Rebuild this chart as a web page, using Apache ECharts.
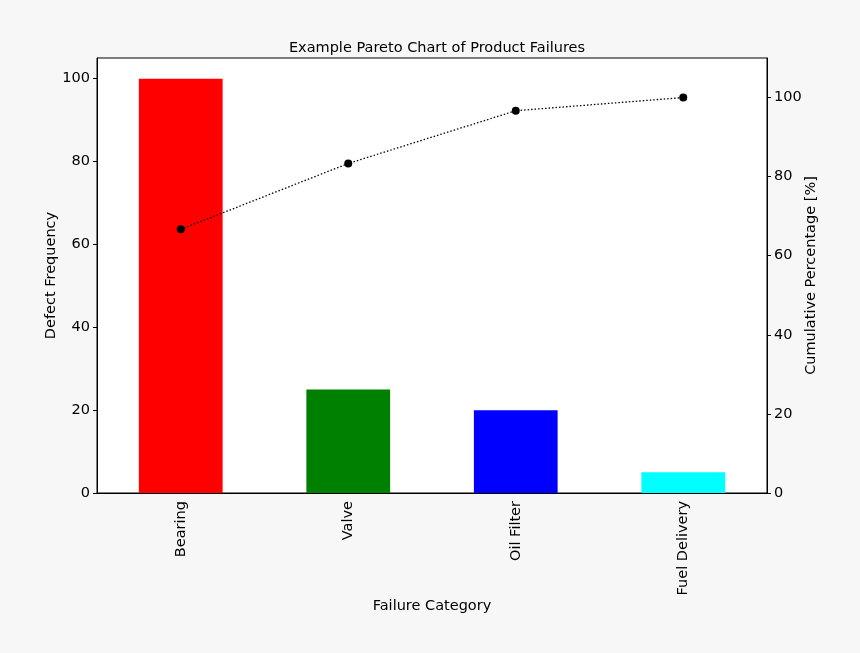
<!DOCTYPE html>
<html>
<head>
<meta charset="utf-8">
<script src="https://cdn.jsdelivr.net/npm/echarts@6/dist/echarts.min.js"></script>
<style>
html,body{margin:0;padding:0;background:#f7f7f7;}
#c{width:860px;height:653px;}
</style>
</head>
<body>
<div id="c"></div>
<script>
const categories = ['Bearing', 'Valve', 'Oil Filter', 'Fuel Delivery'];
const frequencies = [100, 25, 20, 5];
const barColors = ['#ff0000', '#008000', '#0000ff', '#00ffff'];
const cumulativePct = [66.67, 83.33, 96.67, 100];
const leftTicks = [0, 20, 40, 60, 80, 100];
const rightTicks = [0, 20, 40, 60, 80, 100];

const font = 'DejaVu Sans';
const fs = 14.5;
const chart = echarts.init(document.getElementById('c'), null, {renderer: 'canvas'});
chart.setOption({
  backgroundColor: '#f7f7f7',
  animation: false,
  title: {
    text: 'Example Pareto Chart of Product Failures',
    left: 432, top: 36, textAlign: 'center',
    textStyle: {fontFamily: font, fontSize: fs, fontWeight: 'normal', color: '#000'}
  },
  grid: {left: 97, right: 93, top: 58, bottom: 160, show: true, backgroundColor: '#fff', borderColor: '#000', borderWidth: 1},
  xAxis: {
    type: 'category', data: categories, boundaryGap: true,
    name: 'Failure Category', nameLocation: 'middle', nameGap: 106, nameMoveOverlap: false,
    nameTextStyle: {fontFamily: font, fontSize: fs, color: '#000'},
    axisLine: {lineStyle: {color: '#000', width: 1}},
    axisTick: {alignWithLabel: true, length: 4, lineStyle: {color: '#000'}},
    axisLabel: {rotate: 90, fontFamily: font, fontSize: fs, color: '#000', margin: 8},
    splitLine: {show: false}
  },
  yAxis: [{
    type: 'value', min: 0, max: 105, position: 'left',
    name: 'Defect Frequency', nameLocation: 'middle', nameGap: 38, nameMoveOverlap: false,
    nameTextStyle: {fontFamily: font, fontSize: fs, color: '#000'},
    axisLine: {show: true, lineStyle: {color: '#000'}},
    axisTick: {show: true, length: 4, customValues: leftTicks, lineStyle: {color: '#000'}},
    axisLabel: {fontFamily: font, fontSize: fs, color: '#000', margin: 7, customValues: leftTicks},
    splitLine: {show: false}
  }, {
    type: 'value', min: 0, max: 110, position: 'right',
    name: 'Cumulative Percentage [%]', nameLocation: 'middle', nameGap: 37, nameMoveOverlap: false,
    nameTextStyle: {fontFamily: font, fontSize: fs, color: '#000'},
    axisLine: {show: true, lineStyle: {color: '#000'}},
    axisTick: {show: true, length: 4, customValues: rightTicks, lineStyle: {color: '#000'}},
    axisLabel: {fontFamily: font, fontSize: fs, color: '#000', margin: 7, customValues: rightTicks},
    splitLine: {show: false}
  }],
  series: [{
    type: 'bar', yAxisIndex: 0, barWidth: '50%',
    data: frequencies.map((v, i) => ({value: v, itemStyle: {color: barColors[i]}}))
  }, {
    type: 'line', yAxisIndex: 1, data: cumulativePct,
    symbol: 'circle', symbolSize: 8,
    itemStyle: {color: '#000'},
    lineStyle: {color: '#000', width: 1.3, type: [1.5, 2]}
  }]
});
</script>
</body>
</html>
